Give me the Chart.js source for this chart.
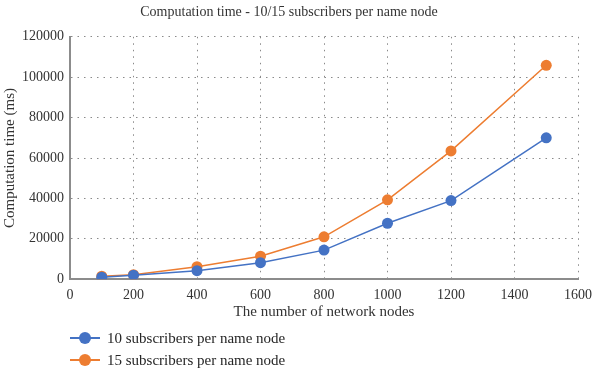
<!DOCTYPE html>
<html>
<head>
<meta charset="utf-8">
<script src="https://cdn.jsdelivr.net/npm/chart.js@4"></script>
<style>
  html, body { margin: 0; padding: 0; background: #fff; }
  #wrap { position: relative; width: 600px; height: 371px; }
  #legend { position: absolute; left: 70px; top: 327px; font-family: "Liberation Serif", serif; font-size: 15px; color: #262626; }
  .item { display: flex; align-items: center; height: 22px; }
  .mk { position: relative; width: 30px; height: 12px; margin-right: 7px; }
  .mk .ln { position: absolute; left: 0; right: 0; top: 5px; height: 2px; }
  .mk .dt { position: absolute; left: 9px; top: 0; width: 12px; height: 12px; border-radius: 50%; }
</style>
</head>
<body>
<div id="wrap">
  <canvas id="c" width="600" height="371"></canvas>
  <div id="legend"></div>
</div>
<script>
const xValues = [100, 200, 400, 600, 800, 1000, 1200, 1500];
const series10 = [1000, 2000, 4200, 8200, 14400, 27700, 38900, 70000];
const series15 = [1500, 2200, 6200, 11400, 21000, 39300, 63500, 105900];
const seriesNames = ["10 subscribers per name node", "15 subscribers per name node"];
const seriesColors = ["#4472C4", "#ED7D31"];
const chartTitle = "Computation time - 10/15 subscribers per name node";
const xTitle = "The number of network nodes";
const yTitle = "Computation time (ms)";

const fontFam = '"Liberation Serif", "DejaVu Serif", serif';
const toPts = arr => arr.map((v, i) => ({ x: xValues[i], y: v }));

const datasets = [series10, series15].map((s, i) => ({
  label: seriesNames[i],
  data: toPts(s),
  borderColor: seriesColors[i],
  backgroundColor: seriesColors[i],
  borderWidth: 1.5,
  pointRadius: 5.5,
  pointHoverRadius: 5.5,
  pointBorderWidth: 0,
  tension: 0
}));

new Chart(document.getElementById('c'), {
  type: 'line',
  data: { datasets },
  options: {
    responsive: false,
    animation: false,
    layout: { padding: { left: 0, right: 22, top: 0, bottom: 50 } },
    plugins: {
      legend: { display: false },
      tooltip: { enabled: false },
      title: {
        display: true, text: chartTitle, color: '#333',
        font: { family: fontFam, size: 14, weight: 'normal' },
        padding: { top: 4, bottom: 16 }
      }
    },
    scales: {
      x: {
        type: 'linear', min: 0, max: 1600,
        ticks: { stepSize: 200, color: '#333', font: { family: fontFam, size: 14 }, padding: 8,
                 callback: v => String(v) },
        grid: { color: '#8a8a8a', lineWidth: 1, drawTicks: false },
        border: { display: true, color: '#8c8c8c', width: 2, dash: [1.5, 5] },
        title: { display: true, text: xTitle, color: '#333', font: { family: fontFam, size: 15 }, padding: { top: -9, bottom: 0 } }
      },
      y: {
        min: 0, max: 120000,
        ticks: { stepSize: 20000, color: '#333', font: { family: fontFam, size: 14 }, padding: 6,
                 callback: v => String(v) },
        grid: { color: '#8a8a8a', lineWidth: 1, drawTicks: false },
        border: { display: true, color: '#8c8c8c', width: 2, dash: [1.5, 5] },
        title: { display: true, text: yTitle, color: '#333', font: { family: fontFam, size: 15 }, padding: { top: 1, bottom: -3 } }
      }
    }
  }
});

const lg = document.getElementById('legend');
seriesNames.forEach((n, i) => {
  const it = document.createElement('div'); it.className = 'item';
  it.innerHTML = '<div class="mk"><div class="ln" style="background:' + seriesColors[i] + '"></div><div class="dt" style="background:' + seriesColors[i] + '"></div></div><span>' + n + '</span>';
  lg.appendChild(it);
});
</script>
</body>
</html>
